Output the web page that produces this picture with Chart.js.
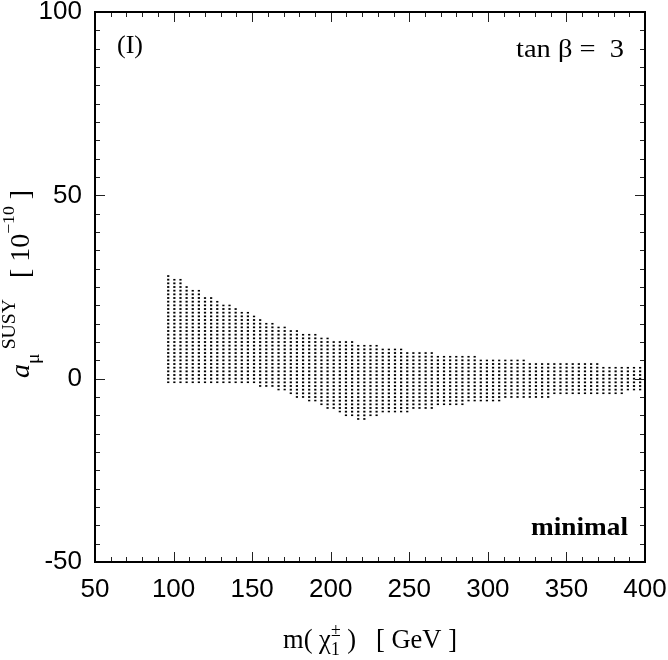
<!DOCTYPE html>
<html>
<head>
<meta charset="utf-8">
<script src="https://cdn.jsdelivr.net/npm/chart.js@4.4.1/dist/chart.umd.min.js"></script>
<style>
html,body{margin:0;padding:0;background:#fff;}
#box{width:668px;height:660px;}
canvas{display:block;}
</style>
</head>
<body>
<div id="box"><canvas id="chart" width="668" height="660"></canvas></div>
<script>
// chargino mass of each scanned column [GeV]
const charginoMass = [
  96.6, 100.5, 104.4, 108.3, 112.2, 116.1, 120.0, 123.9, 127.8, 131.7,
  135.6, 139.5, 143.4, 147.3, 151.2, 155.1, 159.0, 162.9, 166.8, 170.7,
  174.6, 178.5, 182.4, 186.3, 190.2, 194.1, 198.0, 201.9, 205.8, 209.7,
  213.6, 217.5, 221.4, 225.3, 229.2, 233.1, 237.0, 240.9, 244.8, 248.7,
  252.6, 256.5, 260.4, 264.3, 268.2, 272.1, 276.0, 279.9, 283.8, 287.7,
  291.6, 295.5, 299.4, 303.3, 307.2, 311.1, 315.0, 318.9, 322.8, 326.7,
  330.6, 334.5, 338.4, 342.3, 346.2, 350.1, 354.0, 357.9, 361.8, 365.7,
  369.6, 373.5, 377.4, 381.3, 385.2, 389.1, 393.0, 396.9
];
// largest a_mu^SUSY [1e-10] in each column
const aMuSusyMax = [
  28, 27, 27, 25, 24, 24, 22, 22, 21, 20,
  20, 19, 18, 18, 17, 16, 15, 15, 14, 14,
  13, 13, 12, 12, 12, 11, 11, 10, 10, 10,
  10, 9, 9, 9, 9, 8, 8, 8, 8, 7,
  7, 7, 7, 7, 6, 6, 6, 6, 6, 6,
  6, 5, 5, 5, 5, 5, 5, 5, 5, 4,
  4, 4, 4, 4, 4, 4, 4, 4, 4, 4,
  4, 3, 3, 3, 3, 3, 3, 3
];
// smallest a_mu^SUSY [1e-10] in each column
const aMuSusyMin = [
  -1, -1, -1, -1, -1, -1, -1, -1, -1, -1,
  -1, -1, -1, -1, -1, -2, -2, -2, -3, -3,
  -4, -5, -5, -6, -6, -7, -8, -8, -9, -10,
  -10, -11, -11, -10, -10, -9, -9, -9, -9, -9,
  -8, -8, -8, -8, -7, -7, -7, -7, -7, -6,
  -6, -6, -6, -6, -6, -5, -5, -5, -5, -5,
  -5, -5, -5, -4, -4, -4, -4, -4, -4, -4,
  -4, -4, -4, -4, -4, -3, -3, -3
];
const xTickLabels = [50, 100, 150, 200, 250, 300, 350, 400];
const yTickLabels = [-50, 0, 50, 100];
const X_MIN = 50, X_MAX = 400, Y_MIN = -50, Y_MAX = 100;
const X_MINOR_STEP = 10, Y_MINOR_STEP = 5, Y_GRID_STEP = 1;

const SERIF = '"Liberation Serif", "Times New Roman", serif';
const SANS = '"Liberation Sans", Arial, sans-serif';

let patCache = null;
function dotFill(chart) {
  const ys = chart.scales && chart.scales.y;
  if (!ys || !chart.chartArea) return '#000';
  const key = ys.top + ':' + ys.bottom;
  if (patCache && patCache.key === key) return patCache.pat;
  const c = document.createElement('canvas');
  c.width = 4; c.height = chart.height;
  const g = c.getContext('2d');
  g.fillStyle = '#000';
  for (let v = Y_MIN; v <= Y_MAX; v += Y_GRID_STEP) {
    const p = ys.getPixelForValue(v);
    g.fillRect(0, p - 0.9, 4, 1.8);
  }
  const pat = chart.ctx.createPattern(c, 'repeat');
  patCache = {key, pat};
  return pat;
}

function drawRich(ctx, pieces, x, y, align, targetWidth) {
  const ws = pieces.map(p => {
    if (p.gap) return p.gap;
    ctx.font = p.font;
    if (p.stack) return Math.max(ctx.measureText(p.sup).width, ctx.measureText(p.sub).width);
    return ctx.measureText(p.text).width;
  });
  const total = ws.reduce((a, b) => a + b, 0);
  const sx = targetWidth ? targetWidth / total : 1;
  ctx.save();
  ctx.translate(x, y);
  ctx.scale(sx, 1);
  let cx = align === 'center' ? -total / 2 : (align === 'right' ? -total : 0);
  ctx.textBaseline = 'alphabetic';
  ctx.textAlign = 'left';
  ctx.fillStyle = '#000';
  pieces.forEach((p, i) => {
    if (p.font) ctx.font = p.font;
    if (p.stack) {
      ctx.fillText(p.sup, cx, p.supDy);
      ctx.fillText(p.sub, cx, p.subDy);
    } else if (p.text) {
      ctx.fillText(p.text, cx, p.dy || 0);
    }
    cx += ws[i];
  });
  ctx.restore();
}

const decor = {
  id: 'decor',
  afterDraw(chart) {
    const {ctx, chartArea: a, scales: {x, y}} = chart;
    ctx.save();
    ctx.strokeStyle = '#222';
    ctx.lineWidth = 1;
    ctx.beginPath();
    for (let v = X_MIN; v <= X_MAX; v += X_MINOR_STEP) {
      const px = Math.round(x.getPixelForValue(v)) + 0.5;
      const len = xTickLabels.includes(v) ? 10 : 5;
      ctx.moveTo(px, a.bottom); ctx.lineTo(px, a.bottom - len);
      ctx.moveTo(px, a.top); ctx.lineTo(px, a.top + len);
    }
    for (let v = Y_MIN; v <= Y_MAX; v += Y_MINOR_STEP) {
      const py = Math.round(y.getPixelForValue(v)) + 0.5;
      const len = yTickLabels.includes(v) ? 10 : 5;
      ctx.moveTo(a.left, py); ctx.lineTo(a.left + len, py);
      ctx.moveTo(a.right, py); ctx.lineTo(a.right - len, py);
    }
    ctx.stroke();
    ctx.strokeStyle = '#000';
    ctx.lineWidth = 2;
    ctx.strokeRect(a.left, a.top, a.right - a.left, a.bottom - a.top);

    // panel labels
    drawRich(ctx, [{text: '(I)', font: '26px ' + SERIF}], 117, 53, 'left');
    drawRich(ctx, [{text: 'tan β =  3', font: '26px ' + SERIF}], 516, 57, 'left', 108);
    drawRich(ctx, [{text: 'minimal', font: 'bold 26px ' + SERIF}], 531, 535, 'left', 97);

    // x-axis title
    drawRich(ctx, [
      {text: 'm( χ', font: '27px ' + SERIF},
      {stack: true, sup: '±', sub: '1', supDy: -12, subDy: 7, font: '18px ' + SERIF},
      {text: ' )   [ GeV ]', font: '27px ' + SERIF}
    ], 370, 648, 'center', 174);

    // y-axis title (rotated)
    ctx.save();
    ctx.translate(29, 284);
    ctx.rotate(-Math.PI / 2);
    drawRich(ctx, [
      {text: 'a', font: 'italic 27px ' + SERIF},
      {text: 'μ', font: '19px ' + SERIF, dy: 10},
      {gap: 4},
      {text: 'SUSY', font: '19px ' + SERIF, dy: -14},
      {text: '   [ 10', font: '27px ' + SERIF},
      {text: '−10', font: '17px ' + SERIF, dy: -15},
      {text: ' ]', font: '27px ' + SERIF}
    ], 0, 0, 'center', 188);
    ctx.restore();
    ctx.restore();
  }
};

new Chart(document.getElementById('chart'), {
  type: 'bar',
  data: {
    datasets: [{
      label: 'a_mu SUSY',
      data: charginoMass.map((m, i) => ({x: m, y: [aMuSusyMin[i], aMuSusyMax[i]]})),
      backgroundColor: c => dotFill(c.chart),
      borderWidth: 0,
      barThickness: 0.4,
      inflateAmount: 0.9
    }]
  },
  options: {
    responsive: false,
    animation: false,
    devicePixelRatio: 1,
    layout: {padding: {top: 12, right: 23, left: 0, bottom: 0}},
    plugins: {legend: {display: false}, tooltip: {enabled: false}},
    scales: {
      x: {
        type: 'linear', min: X_MIN, max: X_MAX, offset: false,
        grid: {display: false, drawTicks: false, offset: false}, border: {display: false},
        afterBuildTicks: s => { s.ticks = xTickLabels.map(v => ({value: v})); },
        afterFit: s => { s.height = 98; s.paddingLeft = 0; s.paddingRight = 0; },
        ticks: {font: {family: SANS, size: 26}, color: '#000', padding: 12, maxRotation: 0, autoSkip: false}
      },
      y: {
        type: 'linear', min: Y_MIN, max: Y_MAX, beginAtZero: false,
        grid: {display: false, drawTicks: false}, border: {display: false},
        afterBuildTicks: s => { s.ticks = yTickLabels.map(v => ({value: v})); },
        afterFit: s => { s.width = 95; s.paddingTop = 0; s.paddingBottom = 0; },
        ticks: {font: {family: SANS, size: 26}, color: '#000', padding: 13}
      }
    }
  },
  plugins: [decor]
});
</script>
</body>
</html>
